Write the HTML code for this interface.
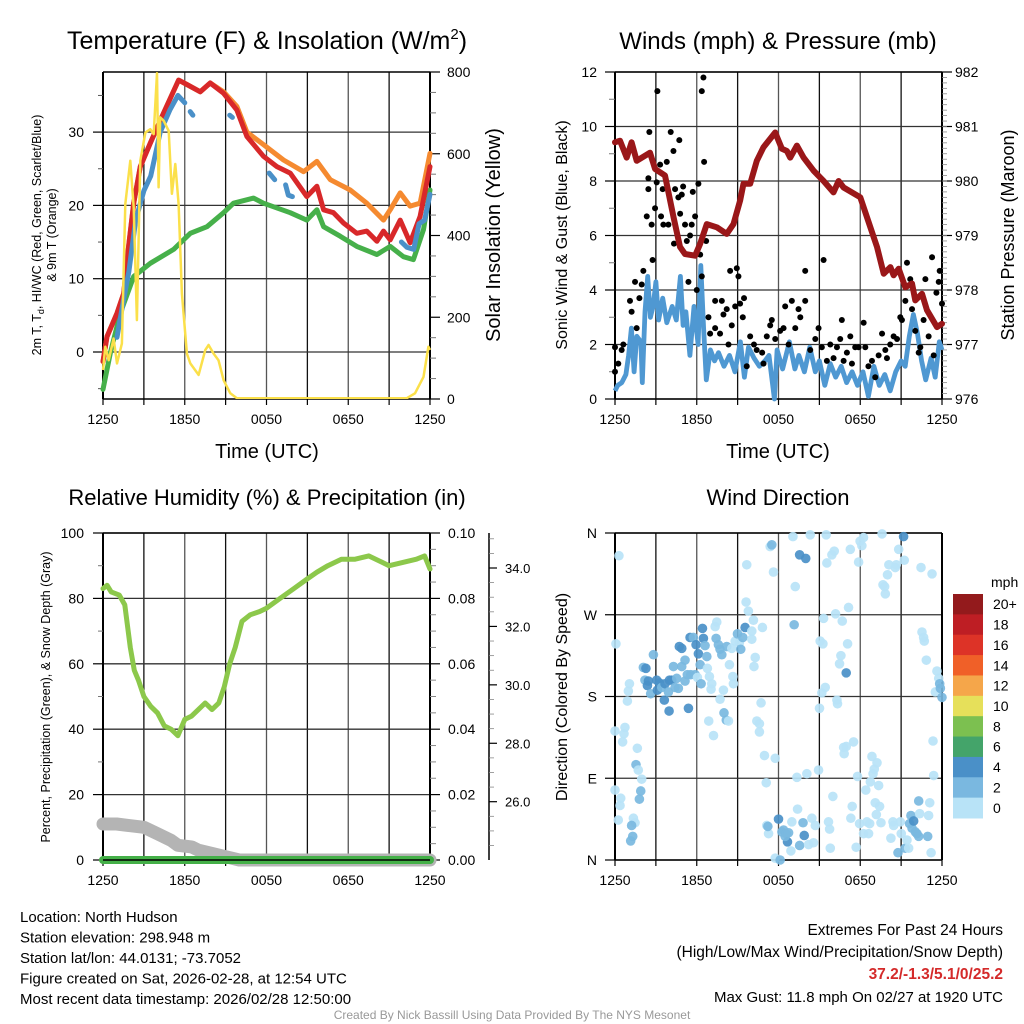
<!DOCTYPE html>
<html><head><meta charset="utf-8"><title>Station Meteogram</title>
<style>
html,body{margin:0;padding:0;background:#fff;}
svg{display:block;font-family:"Liberation Sans",Arial,sans-serif;}
</style></head>
<body>
<svg id="chart" width="1024" height="1024" viewBox="0 0 1024 1024" xmlns="http://www.w3.org/2000/svg">
<g id="layer"></g>
</svg>
<script>
// ===== Panel 1 data: temperature (F) and insolation =====
const tempHours = [0,0.29,1.03,1.52,1.88,2.25,2.74,3.47,4.45,5.55,6.16,7.14,7.87,8.85,9.83,10.56,11.78,12.76,13.74,14.96,15.7,16.19,16.92,17.65,18.63,19.36,20.1,20.59,21.08,21.81,22.54,23.27,24];
const tempValues = [-1.3,2.1,5.3,8,14.4,20.3,25.3,28.5,32.6,37.1,36.5,35.5,36.7,35.3,33,29.4,26.7,25.3,24.4,21.2,22.6,19.4,19,17.6,16.2,16.5,15.1,16.5,15.3,18,14.9,18.5,25.3];
const t9Hours = [0,0.29,1.03,1.52,1.88,2.25,2.74,3.47,4.45,5.55,6.16,7.14,7.87,8.85,9.83,10.56,11.78,13.25,14.72,15.7,16.68,18.14,19.36,20.59,21.08,21.81,22.54,23.27,24];
const t9Values = [-1.3,2.1,5.3,8,14.4,20.3,25.3,28.5,32.6,37.1,36.5,35.5,36.7,35.5,33.5,30,28.3,26.2,24.6,26,23.5,22.1,20.3,18,19.4,21.7,19.9,20.3,27.1];
const dewHours = [0,0.54,1.27,2.25,3.47,5.18,6.41,7.63,8.85,9.58,11.05,11.78,13.74,14.96,15.7,16.19,17.41,18.63,20.1,21.08,22.05,22.78,23.52,24];
const dewValues = [-5.1,-0.1,5.3,10.3,12.1,14,16.2,17.1,19,20.3,21,20.3,19,18,19.4,17.1,15.8,14.4,13.3,14.4,13,12.6,16.7,22.1];
const hiwcSegHours = [[1.03,1.5,1.9,2.4,3.0,3.5,4.2,4.9,5.5,6.0],[6.4,6.6],[9.3,9.5],[12.2,12.6],[13.4,13.6,13.9],[21.9,22.3,22.8,23.2,23.6,24]];
const hiwcSegValues = [[2,7,11,18,22,24,30,33,35,34],[32.8,32.3],[32.3,32],[24.4,23.5],[22.8,21.4,21.2],[15,14.3,14,17.5,18,21.5]];
const solarHours = [0,0.17,0.42,0.78,1.03,1.39,1.64,2.0,2.25,2.49,2.74,3.11,3.47,3.72,3.96,4.08,4.2,4.45,4.82,5.06,5.31,5.55,5.79,6.16,6.41,7.02,7.51,7.75,8.12,8.48,8.85,9.34,9.83,22.3,22.9,23.52,23.88,24];
const solarValues = [71,128,95,148,87,136,477,583,469,193,583,652,660,648,797,518,689,681,656,502,575,477,258,111,87,59,120,132,111,95,46,14,2,2,14,54,128,120];
const p1LeftTicks = [0,10,20,30];
const p1RightTicks = [0,200,400,600,800];
const timeTickLabels = ["1250","1850","0050","0650","1250"];

// ===== Panel 2 data: winds & pressure =====
const presHours = [0,0.37,0.86,1.22,1.59,2.57,2.94,3.67,4.29,4.77,5.14,5.88,6.25,6.74,7.47,8.2,8.7,9.18,9.43,9.92,10.41,10.9,11.76,12.25,12.62,12.86,13.35,13.84,14.57,15.31,16.04,16.41,16.78,18.0,18.49,19.23,19.72,20.21,20.45,20.82,21.31,21.8,22.04,22.53,22.9,23.63,24];
const presValues = [980.71,980.74,980.43,980.71,980.37,980.52,980.22,980.1,979.34,978.79,978.66,978.63,978.85,979.21,979.15,979.03,979.21,979.64,979.95,979.95,980.37,980.62,980.89,980.59,980.55,980.43,980.65,980.43,980.19,980.0,979.79,980.0,979.88,979.7,979.34,978.79,978.3,978.42,978.27,978.39,978.05,978.12,977.81,977.93,977.63,977.32,977.38];
const windHours = [0,0.2,0.5,0.8,1.0,1.2,1.4,1.6,1.9,2.0,2.2,2.4,2.6,2.8,3.0,3.2,3.5,3.8,4.2,4.5,4.8,5.0,5.2,5.5,5.8,6.1,6.3,6.5,6.7,7.0,7.3,7.6,8.0,8.4,8.8,9.2,9.5,9.8,10.2,10.6,11.0,11.3,11.7,11.9,12.3,12.8,13.2,13.5,13.9,14.3,14.7,15.0,15.4,15.8,16.2,16.6,17.0,17.4,17.8,18.2,18.6,19.0,19.4,19.8,20.2,20.6,21.0,21.3,21.6,21.9,22.2,22.5,22.8,23.2,23.5,23.8,24];
const windValues = [0.3,0.5,0.6,0.9,1.6,2.6,1.0,2.3,2.1,0.6,3.2,4.5,3.0,3.4,4.3,2.9,3.7,2.8,3.4,2.9,4.5,2.7,3.2,1.6,3.4,2.0,4.9,2.6,0.7,1.8,1.4,1.7,1.2,1.6,1.0,2.1,0.8,1.9,1.5,1.2,1.4,1.6,0.0,1.8,1.1,2.1,1.1,1.6,1.0,1.9,1.0,1.4,0.5,1.3,0.8,1.2,0.6,1.0,0.5,1.0,0.1,1.2,0.5,0.9,0.3,1.0,1.4,1.2,2.3,3.1,2.4,1.4,0.7,1.5,0.8,2.1,1.8];
const gustHours = [0,0,0.24,0.49,0.61,1.1,1.22,1.47,1.59,1.79,1.96,2.08,2.33,2.45,2.45,2.52,2.69,2.76,2.94,3.06,3.11,3.31,3.38,3.5,3.55,3.8,3.92,4.09,4.29,4.33,4.41,4.65,4.72,4.78,4.9,5.0,5.14,5.27,5.39,5.51,5.63,5.71,5.88,6.0,6.12,6.25,6.37,6.37,6.49,6.54,6.69,6.86,6.98,7.35,7.35,7.71,7.84,7.96,8.2,8.33,8.45,8.57,8.82,8.94,9.06,9.18,9.38,9.47,9.67,9.92,10.2,10.4,10.8,10.9,11.14,11.39,11.51,11.76,12.12,12.37,12.49,12.74,12.98,13.23,13.47,13.6,13.96,13.96,14.33,14.7,14.94,15.18,15.31,15.55,15.8,16.04,16.29,16.53,16.65,16.78,17.02,17.27,17.39,17.63,17.88,18.25,18.37,18.6,18.86,19.1,19.35,19.6,19.84,19.96,20.2,20.45,20.7,20.94,21.06,21.31,21.43,21.67,21.8,22.04,22.29,22.41,22.65,22.78,23.02,23.27,23.39,23.59,23.76,23.83,24];
const gustValues = [1.0,1.9,1.3,1.8,2.0,3.6,3.2,4.3,2.6,3.7,4.2,4.7,6.7,7.7,8.1,9.8,6.4,5.1,7.0,7.95,11.3,8.6,6.7,7.7,6.4,8.7,6.4,9.8,9.1,5.7,7.7,7.4,9.5,6.8,7.5,7.8,6.4,5.8,4.3,6.0,6.4,7.6,6.7,4.0,7.9,5.3,4.5,11.3,11.8,8.7,5.8,3.0,2.4,2.6,3.6,2.4,3.6,3.1,3.3,2.0,4.7,2.7,3.4,4.8,4.5,3.5,3.0,3.7,1.2,2.3,2.0,1.8,1.7,1.3,2.3,2.7,2.9,2.2,2.5,2.6,3.4,2.0,3.6,2.6,3.3,3.0,4.7,3.6,1.8,2.2,2.6,1.9,5.1,1.4,2.0,1.5,1.9,2.2,2.9,1.4,1.7,2.3,1.3,1.9,1.9,2.8,1.9,1.2,1.4,0.8,1.6,2.4,1.8,1.5,2.0,2.3,2.2,3.0,2.9,3.6,5.0,4.4,3.3,2.5,1.7,1.9,2.9,4.4,2.3,5.2,1.6,3.9,4.3,4.7,3.5];
const p2LeftTicks = [0,2,4,6,8,10,12];
const p2RightTicks = [976,977,978,979,980,981,982];

// ===== Panel 3 data: RH, precipitation, snow depth =====
const rhHours = [0,0.3,0.6,1.2,1.6,2.0,2.3,2.6,3.0,3.5,4.0,4.5,5.0,5.5,6.0,6.5,7.0,7.5,8.0,8.5,8.9,9.3,9.7,10.2,10.8,11.5,12,13,14,15,15.7,16.5,17.5,18.5,19.5,20.5,21,22,23,23.6,24];
const rhValues = [83,84,82,81,78,65,58,55,50,47,45,41,40,38,43,44,46,48,46,48,53,60,65,73,75,76,77,80,83,86,88,90,92,92,93,91,90,91,92,93,89];
const snowHours = [0,1,2,3,4,5,5.5,6.5,7,8,9,10,24];
const snowValues = [11,11,10.5,10,8,6,4.5,4,3,2,1,0,0];
const precipHours = [0,24];
const precipValues = [0,0];
const p3LeftTicks = [0,20,40,60,80,100];
const p3RightTicks = ["0.00","0.02","0.04","0.06","0.08","0.10"];
const p3FarTicks = [26,28,30,32,34];

// ===== Panel 4 data: wind direction (deg) colored by speed class =====
const dirHours = [0.29,0.07,0,0,0.42,0.37,0.24,0.56,0.66,0.73,0.91,0.98,1.06,1.64,1.54,1.71,1.96,1.89,1.79,1.35,1.47,1.22,1.3,1.15,2.08,2.27,2.2,2.45,2.38,2.62,2.82,3.06,3.11,3.26,3.43,3.67,3.62,3.92,3.97,4.0,4.16,4.29,4.41,4.53,4.65,4.72,4.9,4.9,5.14,5.14,5.31,5.39,5.51,5.56,5.75,5.88,5.95,6.05,6.12,6.25,6.32,6.42,6.49,6.61,6.74,6.78,6.88,6.93,7.1,7.05,7.23,7.35,7.42,7.47,7.59,7.71,7.84,7.96,7.71,8.0,8.17,8.33,8.2,8.4,8.57,8.65,8.69,8.82,8.99,9.13,9.23,9.38,9.55,9.62,9.79,9.67,10.04,10.04,10.16,10.29,10.2,10.41,10.6,10.6,10.72,10.82,10.97,11.1,11.14,11.27,11.22,11.39,11.51,11.63,11.76,11.76,12.12,12.0,12.25,12.37,12.56,12.66,12.49,12.74,12.91,12.98,13.06,13.23,13.15,13.35,13.4,13.55,13.55,13.8,13.89,14.0,14.08,14.21,14.33,14.45,14.57,14.7,14.94,15.01,15.06,15.18,15.31,15.26,15.43,15.55,15.5,15.67,15.75,15.8,15.99,15.92,16.09,16.19,16.29,16.33,16.48,16.58,16.68,16.78,16.82,16.97,16.97,17.07,17.14,17.27,17.31,17.41,17.51,17.7,17.8,17.95,17.88,17.99,18.12,18.24,18.24,18.41,18.49,18.61,18.69,18.74,18.86,18.94,19.03,19.1,19.18,19.23,19.35,19.42,19.52,19.6,19.67,19.79,19.84,20.0,20.1,20.25,20.4,20.45,20.57,20.65,20.77,20.82,20.94,21.01,21.18,21.23,21.3,21.43,21.55,21.62,21.72,21.8,21.92,22.04,22.16,22.29,22.29,22.36,22.46,22.53,22.65,22.7,22.85,23.02,23.1,22.95,23.2,23.27,23.34,23.39,23.51,23.63,23.76,23.83,23.88,24];
const dirValues = [335,238,142,77,68,60,44,130,139,146,175,186,194,123,105,99,89,76,67,46,41,38,26,21,212,211,198,197,192,183,226,198,187,195,190,194,176,185,164,198,198,213,190,200,189,235,233,213,220,197,204,167,245,204,245,204,237,201,227,215,194,255,244,236,224,211,153,202,194,188,137,257,244,262,237,232,226,187,177,162,154,153,235,215,233,202,194,241,249,239,232,245,256,284,274,325,252,243,264,223,213,153,150,141,173,256,115,85,38,29,37,345,347,317,112,2,0,45,31,33,29,20,26,30,10,42,356,301,259,91,56,336,16,41,27,332,95,17,358,46,19,38,99,167,241,184,266,238,190,327,358,42,34,13,70,336,340,271,176,172,216,225,263,124,117,125,206,238,278,342,46,59,130,14,92,40,328,351,346,355,29,77,42,29,40,86,114,95,100,63,50,107,82,59,41,359,303,301,293,314,325,24,42,38,322,325,8,342,42,29,356,330,13,22,13,40,49,35,43,31,29,65,26,51,322,251,245,241,220,49,63,26,8,315,131,93,185,208,200,194,189,179];
const dirSpeedClass = [0,0,0,0,0,0,0,0,0,0,0,0,0,0,1,0,0,1,1,0,0,1,1,1,1,2,1,2,2,1,1,2,2,2,1,2,2,1,2,2,2,1,1,1,1,2,2,1,1,1,1,2,2,1,1,1,2,0,2,1,1,2,2,1,1,0,0,0,0,0,0,0,1,0,1,1,1,0,0,1,1,0,1,0,0,0,0,0,1,0,1,1,2,0,0,0,0,0,0,0,0,0,0,0,0,0,0,0,0,0,1,0,1,0,0,0,1,2,1,1,1,2,1,1,0,0,0,0,1,0,0,2,1,1,2,2,0,0,0,0,0,0,0,0,0,0,0,0,0,0,0,0,0,0,0,0,0,0,0,0,0,0,0,0,0,0,2,0,0,0,0,0,0,0,0,0,0,0,0,0,0,0,0,0,0,0,0,0,0,0,0,0,0,0,0,0,0,0,0,0,0,0,0,0,0,0,1,0,0,0,2,0,1,0,0,1,1,1,2,1,1,1,1,0,0,0,0,0,0,0,0,1,0,0,0,0,0,0,0,1,1,1,1,1];
const dirTickLabels = ["N","E","S","W","N"];
const speedColors = ["#b8e3f7","#7ab8e0","#4a90c8","#44a46a","#7cc050","#e6e05a","#f5a64a","#f06028","#dd3327","#be1e24","#931a1c"];
const speedLabels = ["0","2","4","6","8","10","12","14","16","18","20+"];

const NS = "http://www.w3.org/2000/svg";
const layer = document.getElementById("layer");
function mk(tag, attrs, parent){
  const e = document.createElementNS(NS, tag);
  for (const k in attrs) e.setAttribute(k, attrs[k]);
  (parent || layer).appendChild(e);
  return e;
}
function txt(s, x, y, size, anchor, parent, extra){
  const e = mk("text", Object.assign({x:x, y:y, "font-size":size, "text-anchor":anchor||"start", fill:"#000"}, extra||{}), parent);
  e.textContent = s;
  return e;
}
function lin(d0,d1,r0,r1){ return v => r0 + (v-d0)*(r1-r0)/(d1-d0); }
function pathD(xs, ys, fx, fy){
  let d = "";
  for (let i=0;i<xs.length;i++) d += (i? "L":"M") + fx(xs[i]).toFixed(1) + "," + fy(ys[i]).toFixed(1);
  return d;
}

const P1 = {x0:103,x1:430,y0:72,y1:399};
const P2 = {x0:615,x1:942,y0:72,y1:399};
const P3 = {x0:103,x1:430,y0:533,y1:860};
const P4 = {x0:615,x1:942,y0:533,y1:860};

function grid(P, hYs, name){
  const g = mk("g", {});
  
  
  for (let i=0;i<=8;i++){
    const x = P.x0 + i*(P.x1-P.x0)/8;
    mk("line",{x1:x,x2:x,y1:P.y0,y2:P.y1,stroke:(i%2? "#111":"#555"),"stroke-width":1.3},g);
    mk("line",{x1:x,x2:x,y1:P.y1,y2:P.y1+6,stroke:"#000","stroke-width":1.2},g);
  }
  hYs.forEach(y => mk("line",{x1:P.x0,x2:P.x1,y1:y,y2:y,stroke:"#333","stroke-width":1.3},g));
  mk("line",{x1:P.x0,x2:P.x1,y1:P.y0,y2:P.y0,stroke:"#000","stroke-width":1.5},g);
  mk("line",{x1:P.x0,x2:P.x1,y1:P.y1,y2:P.y1,stroke:"#000","stroke-width":1.5},g);
  mk("line",{x1:P.x0,x2:P.x0,y1:P.y0,y2:P.y1,stroke:"#000","stroke-width":2},g);
  mk("line",{x1:P.x1,x2:P.x1,y1:P.y0,y2:P.y1,stroke:"#000","stroke-width":2},g);
  for (let i=0;i<5;i++){
    const t = txt(timeTickLabels[i], P.x0 + i*(P.x1-P.x0)/4, P.y1+25, 14, "middle");
    
    
  }
  return g;
}

// ================= Panel 1 =================
{
  const fx = lin(0,24,P1.x0,P1.x1);
  const fy = lin(0,10,352,278.7);
  const fs = lin(0,800,P1.y1,P1.y0);
  grid(P1, p1LeftTicks.map(fy), "temp-grid");
  p1LeftTicks.forEach(v => {
    const t = txt(String(v), 84, fy(v)+5, 14, "end");
    
    
    mk("line",{x1:93,x2:P1.x0,y1:fy(v),y2:fy(v),stroke:"#000","stroke-width":1.2});
  });
  for (let v=-5; v<=35; v+=10) mk("line",{x1:98,x2:P1.x0,y1:fy(v),y2:fy(v),stroke:"#555","stroke-width":1});
  p1RightTicks.forEach(v => {
    const t = txt(String(v), 447, fs(v)+5, 14, "start");
    
    
    mk("line",{x1:P1.x1,x2:P1.x1+10,y1:fs(v),y2:fs(v),stroke:"#000","stroke-width":1.2});
  });
  for (let v=50; v<800; v+=50) if (v%200) mk("line",{x1:P1.x1,x2:P1.x1+6,y1:fs(v),y2:fs(v),stroke:"#777","stroke-width":1});
  const clip = mk("clipPath",{id:"c1"}); mk("rect",{x:P1.x0-4,y:P1.y0-2,width:P1.x1-P1.x0+8,height:P1.y1-P1.y0+2},clip);
  const g = mk("g",{"clip-path":"url(#c1)"});
  const o = mk("path",{d:pathD(t9Hours,t9Values,fx,fy),fill:"none",stroke:"#f58a30","stroke-width":5,"stroke-linejoin":"round","stroke-linecap":"round"},g);
  
  
  const gr = mk("path",{d:pathD(dewHours,dewValues,fx,fy),fill:"none",stroke:"#46b04a","stroke-width":5,"stroke-linejoin":"round","stroke-linecap":"round"},g);
  
  
  const r = mk("path",{d:pathD(tempHours,tempValues,fx,fy),fill:"none",stroke:"#d8282a","stroke-width":5,"stroke-linejoin":"round","stroke-linecap":"round"},g);
  
  
  hiwcSegHours.forEach((hs,i) => {
    const b = mk("path",{d:pathD(hs,hiwcSegValues[i],fx,fy),fill:"none",stroke:"#4a90c8","stroke-width":5,"stroke-linejoin":"round","stroke-linecap":"round"},g);
    
    
  });
  const y = mk("path",{d:pathD(solarHours,solarValues,fx,fs),fill:"none",stroke:"#fbe04a","stroke-width":2.5,"stroke-linejoin":"round"},g);
  
  
  const ti = mk("text",{x:267,y:49,"font-size":25,"text-anchor":"middle"});
  
  
  ti.innerHTML = 'Temperature (F) &amp; Insolation (W/m<tspan dy="-10" font-size="15">2</tspan><tspan dy="10">)</tspan>';
  const xl = txt("Time (UTC)", 267, 458, 20, "middle");
  
  
  const yl = mk("text",{transform:"translate(41,235) rotate(-90)","font-size":12.5,"text-anchor":"middle"});
  
  
  yl.innerHTML = '2m T, T<tspan dy="3" font-size="9">d</tspan><tspan dy="-3">, HI/WC (Red, Green, Scarlet/Blue)</tspan>';
  const yl2 = mk("text",{transform:"translate(56,235) rotate(-90)","font-size":12.5,"text-anchor":"middle"});
  
  
  yl2.textContent = "& 9m T (Orange)";
  const yr = txt("Solar Insolation (Yellow)", 0, 0, 20, "middle", null, {transform:"translate(500,235) rotate(-90)"});
  
  
}

// ================= Panel 2 =================
{
  const fx = lin(0,24,P2.x0,P2.x1);
  const fy = lin(0,12,P2.y1,P2.y0);
  const fp = lin(976,982,P2.y1,P2.y0);
  grid(P2, p2LeftTicks.map(fy), "wind-grid");
  p2LeftTicks.forEach(v => {
    const t = txt(String(v), 597, fy(v)+5, 14, "end");
    
    
    mk("line",{x1:P2.x0-10,x2:P2.x0,y1:fy(v),y2:fy(v),stroke:"#000","stroke-width":1.2});
  });
  for (let v=1; v<12; v+=2) mk("line",{x1:P2.x0-6,x2:P2.x0,y1:fy(v),y2:fy(v),stroke:"#777","stroke-width":1});
  p2RightTicks.forEach(v => {
    const t = txt(String(v), 955, fp(v)+5, 14, "start");
    
    
    mk("line",{x1:P2.x1,x2:P2.x1+10,y1:fp(v),y2:fp(v),stroke:"#000","stroke-width":1.2});
  });
  for (let v=976.1; v<982; v+=0.1) mk("line",{x1:P2.x1,x2:P2.x1+5,y1:fp(v),y2:fp(v),stroke:"#888","stroke-width":0.8});
  const clip = mk("clipPath",{id:"c2"}); mk("rect",{x:P2.x0-4,y:P2.y0-4,width:P2.x1-P2.x0+8,height:P2.y1-P2.y0+8},clip);
  const g = mk("g",{"clip-path":"url(#c2)"});
  const b = mk("path",{d:pathD(windHours,windValues,fx,fy),fill:"none",stroke:"#4f98d2","stroke-width":4.8,"stroke-linejoin":"round"},g);
  
  
  gustHours.forEach((h,i) => {
    const c = mk("circle",{cx:fx(h),cy:fy(gustValues[i]),r:3,fill:"#000"},g);
    
    
  });
  const m = mk("path",{d:pathD(presHours,presValues,fx,fp),fill:"none",stroke:"#9a1719","stroke-width":6,"stroke-linejoin":"round","stroke-linecap":"round"},g);
  
  
  const ti = txt("Winds (mph) & Pressure (mb)", 778, 49, 24, "middle");
  
  
  const xl = txt("Time (UTC)", 778, 458, 20, "middle");
  
  
  const yl = txt("Sonic Wind & Gust (Blue, Black)", 0, 0, 16, "middle", null, {transform:"translate(567,235) rotate(-90)"});
  
  
  const yr = txt("Station Pressure (Maroon)", 0, 0, 18, "middle", null, {transform:"translate(1014,235) rotate(-90)"});
  
  
}

// ================= Panel 3 =================
{
  const fx = lin(0,24,P3.x0,P3.x1);
  const fy = lin(0,100,P3.y1,P3.y0);
  const ff = lin(26,34,801.7,568);
  grid(P3, p3LeftTicks.map(fy), "rh-grid");
  p3LeftTicks.forEach(v => {
    const t = txt(String(v), 84, fy(v)+5, 14, "end");
    
    
    mk("line",{x1:93,x2:P3.x0,y1:fy(v),y2:fy(v),stroke:"#000","stroke-width":1.2});
  });
  for (let v=10; v<100; v+=20) mk("line",{x1:98,x2:P3.x0,y1:fy(v),y2:fy(v),stroke:"#777","stroke-width":1});
  p3RightTicks.forEach((s,i) => {
    const v = i*20;
    const t = txt(s, 448, fy(v)+5, 14, "start");
    
    
    mk("line",{x1:P3.x1,x2:P3.x1+10,y1:fy(v),y2:fy(v),stroke:"#000","stroke-width":1.2});
  });
  for (let v=5; v<100; v+=5) if (v%20) mk("line",{x1:P3.x1,x2:P3.x1+6,y1:fy(v),y2:fy(v),stroke:"#888","stroke-width":1});
  const fa = mk("line",{x1:489,x2:489,y1:P3.y0,y2:P3.y1,stroke:"#000","stroke-width":1.5});
  
  
  p3FarTicks.forEach(v => {
    mk("line",{x1:489,x2:497,y1:ff(v),y2:ff(v),stroke:"#000","stroke-width":1.2});
    const t = txt(v.toFixed(1), 505, ff(v)+5, 13, "start");
    
    
  });
  for (let v=24.5; v<35.5; v+=0.5) if (v%2) mk("line",{x1:489,x2:494,y1:ff(v),y2:ff(v),stroke:"#888","stroke-width":0.8});
  const s = mk("path",{d:pathD(snowHours,snowValues,fx,fy),fill:"none",stroke:"#b4b4b4","stroke-width":13,"stroke-linejoin":"round","stroke-linecap":"round"});
  
  
  const p = mk("path",{d:pathD(precipHours,precipValues,fx,fy),fill:"none",stroke:"#44b048","stroke-width":8,"stroke-linecap":"round"});
  
  
  mk("line",{x1:P3.x0,x2:P3.x1,y1:P3.y1,y2:P3.y1,stroke:"#000","stroke-width":1.5});
  const rh = mk("path",{d:pathD(rhHours,rhValues,fx,fy),fill:"none",stroke:"#8cc84b","stroke-width":5,"stroke-linejoin":"round","stroke-linecap":"round"});
  
  
  const ti = txt("Relative Humidity (%) & Precipitation (in)", 267, 505, 22, "middle");
  
  
  const yl = txt("Percent, Precipitation (Green), & Snow Depth (Gray)", 0, 0, 12.5, "middle", null, {transform:"translate(50,697) rotate(-90)"});
  
  
}

// ================= Panel 4 =================
{
  const fx = lin(0,24,P4.x0,P4.x1);
  const fy = lin(0,360,P4.y1,P4.y0);
  grid(P4, [0,90,180,270,360].map(fy), "direction-grid");
  dirTickLabels.forEach((s,i) => {
    const v = i*90;
    const t = txt(s, 597, fy(v)+5, 14, "end");
    
    
    mk("line",{x1:P4.x0-10,x2:P4.x0,y1:fy(v),y2:fy(v),stroke:"#000","stroke-width":1.2});
  });
  const g = mk("g",{});
  dirHours.forEach((h,i) => {
    const c = mk("circle",{cx:fx(h),cy:fy(dirValues[i]),r:4.8,fill:speedColors[dirSpeedClass[i]],"fill-opacity":0.92},g);
    
    
  });
  const ti = txt("Wind Direction", 778, 505, 22, "middle");
  
  
  const yl = txt("Direction (Colored By Speed)", 0, 0, 16, "middle", null, {transform:"translate(567,697) rotate(-90)"});
  
  
  const cb = mk("g",{});
  
  
  const bh = (818-594)/11;
  for (let i=0;i<11;i++){
    const k = 10-i;
    const r = mk("rect",{x:953,y:594+i*bh,width:30,height:bh+0.5,fill:speedColors[k]},cb);
    
    
    const t = txt(speedLabels[k], 993, 594+i*bh+bh/2+5, 14, "start", cb);
    
    
  }
  const u = txt("mph", 991, 587, 14, "start", cb);
  
  
}

// ================= Footer text =================
{
  const lines = ["Location: North Hudson","Station elevation: 298.948 m","Station lat/lon: 44.0131; -73.7052","Figure created on Sat, 2026-02-28, at 12:54 UTC","Most recent data timestamp: 2026/02/28 12:50:00"];
  lines.forEach((s,i) => {
    const t = txt(s, 20, 922 + i*20.5, 15, "start");
    
    
  });
  const e1 = txt("Extremes For Past 24 Hours", 1003, 935, 15.5, "end");
  
  
  const e2 = txt("(High/Low/Max Wind/Precipitation/Snow Depth)", 1003, 957, 15.5, "end");
  
  
  const e3 = txt("37.2/-1.3/5.1/0/25.2", 1003, 979, 15.5, "end", null, {fill:"#d42a2a","font-weight":"bold"});
  
  
  const e4 = txt("Max Gust: 11.8 mph On 02/27 at 1920 UTC", 1003, 1002, 15, "end");
  
  
  const cr = txt("Created By Nick Bassill Using Data Provided By The NYS Mesonet", 512, 1019, 12, "middle", null, {fill:"#999"});
  
  
}
</script>
</body></html>
